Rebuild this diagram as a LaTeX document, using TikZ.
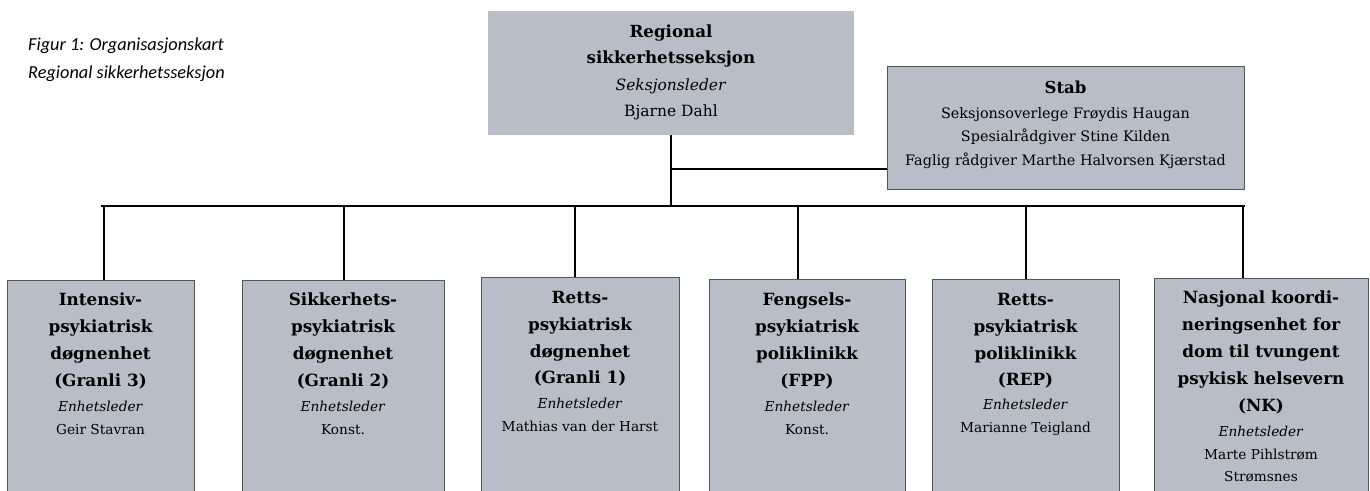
\documentclass[tikz,border=0pt]{standalone}
\usepackage{fontspec}
\setmainfont{DejaVu Serif}
\newfontfamily\capfont{Carlito}
\definecolor{boxfill}{RGB}{184,190,199}
\definecolor{boxline}{RGB}{85,85,85}
\begin{document}
\begin{tikzpicture}[x=1pt,y=-1pt,
  unit/.style={draw=boxline,line width=1pt,fill=boxfill,anchor=north west,inner sep=0pt,outer sep=0pt},
  toptitle/.style={anchor=north,align=center,inner sep=0pt,font=\fontsize{16.7}{26}\selectfont\bfseries},
  topsub/.style={anchor=north,align=center,inner sep=0pt,font=\fontsize{15.5}{26}\selectfont},
  utitle/.style={anchor=north,align=center,inner sep=0pt,font=\fontsize{16.8}{26.8}\selectfont\bfseries},
  usub/.style={anchor=north,align=center,inner sep=0pt,font=\fontsize{13.7}{22.5}\selectfont},
  link/.style={draw=black,line width=1.4pt}]
\useasboundingbox (0,0) rectangle (1370,490);
% caption
\node[anchor=west,inner sep=0pt,font=\capfont\itshape\fontsize{18.3}{28}\selectfont,align=left] (cap) at (28,60) {Figur 1: Organisasjonskart\\Regional sikkerhetsseksjon};
% top box
\node[unit,draw=none,minimum width=366,minimum height=124] (top) at (488,11) {};
\node[toptitle] (topt) at (671,25) {Regional\\sikkerhetsseksjon};
\node[topsub] (tops) at (671,79) {\textit{Seksjonsleder}\\Bjarne Dahl};
% stab
\node[unit,minimum width=357,minimum height=123] (stab) at (887,66) {};
\node[toptitle,font=\fontsize{16.5}{24}\selectfont\bfseries] (stabt) at (stab.north|-0,81) {Stab};
\node[usub,font=\fontsize{14.4}{23.5}\selectfont] (stabs) at (stab.north|-0,107) {Seksjonsoverlege Frøydis Haugan\\Spesialrådgiver Stine Kilden\\Faglig rådgiver Marthe Halvorsen Kjærstad};
% units
\node[unit,minimum width=187,minimum height=220] (b1) at (7,280) {};
\node[unit,minimum width=202,minimum height=220] (b2) at (242,280) {};
\node[unit,minimum width=198,minimum height=220] (b3) at (481,277) {};
\node[unit,minimum width=196,minimum height=220] (b4) at (709,279) {};
\node[unit,minimum width=187,minimum height=220] (b5) at (932,279) {};
\node[unit,minimum width=214,minimum height=220] (b6) at (1154,278) {};
\node[utitle] (b1t) at (b1.north|-0,293) {Intensiv-\\psykiatrisk\\døgnenhet\\(Granli 3)};
\node[usub] (b1s) at (b1.north|-0,401) {\textit{Enhetsleder}\\Geir Stavran};
\node[utitle] (b2t) at (b2.north|-0,293) {Sikkerhets-\\psykiatrisk\\døgnenhet\\(Granli 2)};
\node[usub] (b2s) at (b2.north|-0,401) {\textit{Enhetsleder}\\Konst.};
\node[utitle] (b3t) at (b3.north|-0,291) {Retts-\\psykiatrisk\\døgnenhet\\(Granli 1)};
\node[usub] (b3s) at (b3.north|-0,398) {\textit{Enhetsleder}\\Mathias van der Harst};
\node[utitle] (b4t) at (b4.north|-0,293) {Fengsels-\\psykiatrisk\\poliklinikk\\(FPP)};
\node[usub] (b4s) at (b4.north|-0,401) {\textit{Enhetsleder}\\Konst.};
\node[utitle] (b5t) at (b5.north|-0,293) {Retts-\\psykiatrisk\\poliklinikk\\(REP)};
\node[usub] (b5s) at (b5.north|-0,399) {\textit{Enhetsleder}\\Marianne Teigland};
\node[utitle] (b6t) at (b6.north|-0,291) {Nasjonal koordi-\\neringsenhet for\\dom til tvungent\\psykisk helsevern\\(NK)};
\node[usub] (b6s) at (b6.north|-0,426) {\textit{Enhetsleder}\\Marte Pihlstrøm\\Strømsnes};
% connectors
\coordinate (hub) at (671,206);
\coordinate (staffj) at (671,169);
\coordinate (barL) at (102,206);
\coordinate (barR) at (1244,206);
\coordinate (c1) at (104,206);
\coordinate (c2) at (344,206);
\coordinate (c3) at (575,206);
\coordinate (c4) at (798,206);
\coordinate (c5) at (1026,206);
\coordinate (c6) at (1243,206);
\draw[link] (top.south -| hub) -- (hub);
\draw[link] (staffj) -- (staffj -| stab.west);
\draw[link,line cap=rect] (barL) -- (barR);
\draw[link] (c1) -- (c1 |- b1.north);
\draw[link] (c2) -- (c2 |- b2.north);
\draw[link] (c3) -- (c3 |- b3.north);
\draw[link] (c4) -- (c4 |- b4.north);
\draw[link] (c5) -- (c5 |- b5.north);
\draw[link] (c6) -- (c6 |- b6.north);
\end{tikzpicture}
\end{document}
